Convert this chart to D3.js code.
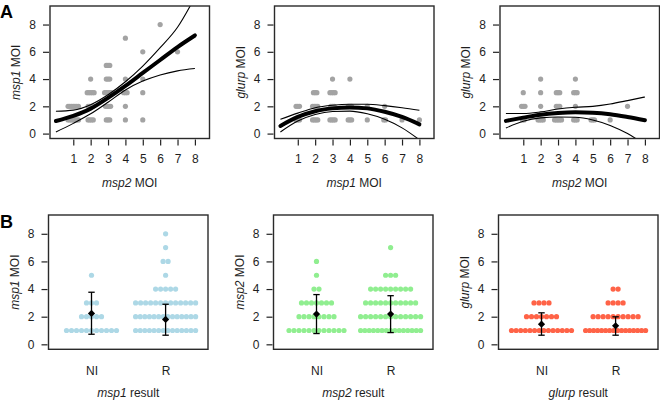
<!DOCTYPE html>
<html>
<head>
<meta charset="utf-8">
<script src="https://cdn.jsdelivr.net/npm/d3@7"></script>
<style>
body { margin: 0; background: #fff; }
svg { font-family: "Liberation Sans", Arial, sans-serif; }
</style>
</head>
<body>
<script>
'use strict';

// ---- data ----
const yTicks = [0, 2, 4, 6, 8];
const xTicksA = [1, 2, 3, 4, 5, 6, 7, 8];
const fitX = [0, 1, 2, 3, 4, 5, 6, 7, 8];

// scatter clusters [x, y, dots in the jittered cluster]
const ptsMsp2Msp1 = [
  [1,1,7],[1,2,7],[2,1,4],[2,2,4],[2,3,5],[2,4,1],
  [3,1,3],[3,2,4],[3,3,5],[3,4,3],[3,5,3],
  [4,1,1],[4,2,1],[4,3,3],[4,4,1],[4,7,1],
  [5,1,1],[5,3,1],[5,4,1],[5,6,1],[6,8,1],[7,6,1]
];
const ptsMsp1Glurp = [
  [1,1,3],[1,2,3],[2,1,4],[2,2,4],[2,3,3],
  [3,1,4],[3,2,3],[3,3,4],[3,4,1],
  [4,1,3],[4,2,3],[4,4,1],
  [5,1,1],[5,2,1],[6,1,2],[6,2,1],[7,1,1],[8,1,1]
];
const ptsMsp2Glurp = [
  [1,1,2],[1,2,3],[1,3,1],[2,1,4],[2,2,1],[2,3,1],[2,4,1],
  [3,1,5],[3,2,3],[3,3,3],[4,1,3],[4,2,1],[4,3,3],[4,4,1],
  [5,1,3],[6,1,1],[7,2,1]
];

// fitted curve and its confidence band at x = 0..8
const fitMsp2Msp1   = [0.92, 1.3, 1.83, 2.62, 3.5, 4.45, 5.4, 6.35, 7.2];
const upperMsp2Msp1 = [1.64, 1.72, 2.12, 2.85, 3.8, 4.95, 6.3, 7.8, 10.0];
const lowerMsp2Msp1 = [0.12, 0.75, 1.45, 2.3, 3.2, 3.85, 4.3, 4.6, 4.77];

const fitMsp1Glurp   = [0.56, 1.22, 1.64, 1.85, 1.92, 1.85, 1.6, 1.22, 0.68];
const upperMsp1Glurp = [1.05, 1.5, 1.9, 2.08, 2.15, 2.15, 2.05, 1.9, 1.71];
const lowerMsp1Glurp = [0.12, 0.92, 1.4, 1.62, 1.65, 1.45, 1.05, 0.42, -0.45];

const fitMsp2Glurp   = [0.93, 1.17, 1.39, 1.51, 1.56, 1.53, 1.42, 1.22, 0.98];
const upperMsp2Glurp = [1.47, 1.47, 1.59, 1.8, 1.93, 2.0, 2.17, 2.42, 2.69];
const lowerMsp2Glurp = [0.41, 0.9, 1.15, 1.22, 1.2, 1.0, 0.6, 0.0, -0.8];

// panel B: result groups, dot counts at MOI 1..8, mean and error bar
const groups = ['NI', 'R'];
const moiLevels = [1, 2, 3, 4, 5, 6, 7, 8];
const countsMsp1 = { NI: [11, 5, 3, 0, 1, 0, 0, 0], R: [14, 14, 13, 5, 1, 2, 1, 1] };
const countsMsp2 = { NI: [12, 8, 7, 2, 1, 1, 0, 0], R: [15, 13, 11, 9, 3, 0, 1, 0] };
const countsGlurp = { NI: [14, 7, 4, 0, 0, 0, 0, 0], R: [16, 10, 4, 2, 0, 0, 0, 0] };
const meanMsp1 = { NI: [2.24, 0.73, 3.77], R: [1.8, 0.66, 2.9] };
const meanMsp2 = { NI: [2.19, 0.78, 3.6], R: [2.19, 0.85, 3.52] };
const meanGlurp = { NI: [1.46, 0.66, 2.28], R: [1.34, 0.66, 1.99] };

// ---- drawing ----
const svg = d3.select('body').append('svg')
  .attr('width', 660).attr('height', 402);

const textCol = '#1e1e1e';
const boxW = 159.5, boxHA = 132.5, boxHB = 134.3;

const panelsA = [
  { left: 50, pts: ptsMsp2Msp1, fit: fitMsp2Msp1, up: upperMsp2Msp1, lo: lowerMsp2Msp1, xl: ['msp2', ' MOI'], yl: ['msp1', ' MOI'] },
  { left: 274.5, pts: ptsMsp1Glurp, fit: fitMsp1Glurp, up: upperMsp1Glurp, lo: lowerMsp1Glurp, xl: ['msp1', ' MOI'], yl: ['glurp', ' MOI'] },
  { left: 500, pts: ptsMsp2Glurp, fit: fitMsp2Glurp, up: upperMsp2Glurp, lo: lowerMsp2Glurp, xl: ['msp2', ' MOI'], yl: ['glurp', ' MOI'] }
];
const panelsB = [
  { left: 48.5, counts: countsMsp1, mean: meanMsp1, col: '#add8e6', xl: ['msp1', ' result'], yl: ['msp1', ' MOI'] },
  { left: 273.5, counts: countsMsp2, mean: meanMsp2, col: '#90ee90', xl: ['msp2', ' result'], yl: ['msp2', ' MOI'] },
  { left: 498.5, counts: countsGlurp, mean: meanGlurp, col: '#ff6347', xl: ['glurp', ' result'], yl: ['glurp', ' MOI'] }
];

function label(g, parts, attrs) {
  const t = g.append('text').attr('fill', textCol).style('font-size', '12px');
  Object.entries(attrs).forEach(([k, v]) => t.attr(k, v));
  t.append('tspan').style('font-style', 'italic').text(parts[0]);
  t.append('tspan').text(parts[1]);
  return t;
}

function frame(g, x, y, top, h, left, ylab, xlab, xAxis) {
  g.append('g')
    .attr('transform', `translate(${left - 1},0)`)
    .call(d3.axisLeft(y).tickValues(yTicks).tickSize(6).tickPadding(7))
    .call(a => a.select('.domain').remove())
    .call(a => a.selectAll('text').style('font-size', '12px').attr('fill', textCol))
    .call(a => a.selectAll('line').attr('stroke', '#222').attr('stroke-width', 1.2));
  g.append('g')
    .attr('transform', `translate(0,${top + h + 1})`)
    .call(xAxis)
    .call(a => a.select('.domain').remove())
    .call(a => a.selectAll('text').style('font-size', '12px').attr('fill', textCol))
    .call(a => a.selectAll('line').attr('stroke', '#222').attr('stroke-width', 1.2));
  g.append('rect')
    .attr('x', left).attr('y', top).attr('width', boxW).attr('height', h)
    .attr('fill', 'none').attr('stroke', '#2a2a2a').attr('stroke-width', 1.4);
  label(g, ylab, { transform: `translate(${left - 30},${top + h / 2}) rotate(-90)`, 'text-anchor': 'middle' });
  label(g, xlab, { x: left + boxW / 2, y: top + h + 48, 'text-anchor': 'middle' });
}

// panel A
panelsA.forEach((p, i) => {
  const top = 6;
  const g = svg.append('g');
  const x = d3.scaleLinear().domain([-0.34, 8.84]).range([p.left, p.left + boxW]);
  const y = d3.scaleLinear().domain([-0.36, 9.36]).range([top + boxHA, top]);

  g.append('clipPath').attr('id', 'clipA' + i)
    .append('rect').attr('x', p.left).attr('y', top).attr('width', boxW).attr('height', boxHA);

  const dots = [];
  p.pts.forEach(([px, py, n]) => {
    for (let k = 0; k < n; k++) dots.push([px + (k - (n - 1) / 2) * 0.1, py]);
  });
  g.append('g').selectAll('circle').data(dots).enter().append('circle')
    .attr('cx', d => x(d[0])).attr('cy', d => y(d[1])).attr('r', 2.6)
    .attr('fill', '#a3a3a3');

  const line = d3.line().x((d, j) => x(fitX[j])).y(d => y(d)).curve(d3.curveMonotoneX);
  const curves = g.append('g').attr('clip-path', `url(#clipA${i})`);
  [p.up, p.lo].forEach(c => curves.append('path').attr('d', line(c))
    .attr('fill', 'none').attr('stroke', '#000').attr('stroke-width', 1.1));
  curves.append('path').attr('d', line(p.fit))
    .attr('fill', 'none').attr('stroke', '#000').attr('stroke-width', 4)
    .attr('stroke-linecap', 'round');

  frame(g, x, y, top, boxHA, p.left, p.yl, p.xl,
    d3.axisBottom(x).tickValues(xTicksA).tickSize(6).tickPadding(9));
});

// panel B
panelsB.forEach(p => {
  const top = 215;
  const g = svg.append('g');
  const x = d3.scalePoint().domain(groups).range([p.left + 43, p.left + 43 + 74.1]);
  const y = d3.scaleLinear().domain([-0.36, 9.36]).range([top + boxHB, top]);

  const dots = [];
  groups.forEach(grp => {
    p.counts[grp].forEach((n, j) => {
      const sp = n > 1 ? Math.min(5, 60 / (n - 1)) : 0;
      for (let k = 0; k < n; k++) dots.push([x(grp) + (k - (n - 1) / 2) * sp, moiLevels[j]]);
    });
  });
  g.append('g').selectAll('circle').data(dots).enter().append('circle')
    .attr('cx', d => d[0]).attr('cy', d => y(d[1])).attr('r', 2.6)
    .attr('fill', p.col);

  const eb = g.append('g').attr('stroke', '#000').attr('stroke-width', 1.3);
  groups.forEach(grp => {
    const [m, lo, hi] = p.mean[grp];
    const cx = x(grp);
    eb.append('line').attr('x1', cx).attr('x2', cx).attr('y1', y(lo)).attr('y2', y(hi));
    eb.append('line').attr('x1', cx - 3.2).attr('x2', cx + 3.2).attr('y1', y(lo)).attr('y2', y(lo));
    eb.append('line').attr('x1', cx - 3.2).attr('x2', cx + 3.2).attr('y1', y(hi)).attr('y2', y(hi));
    g.append('path')
      .attr('d', d3.symbol(d3.symbolSquare, 26)())
      .attr('transform', `translate(${cx},${y(m)}) rotate(45)`)
      .attr('fill', '#000');
  });

  frame(g, x, y, top, boxHB, p.left, p.yl, p.xl,
    d3.axisBottom(x).tickSize(0).tickPadding(16));
});

svg.append('text').attr('x', 0).attr('y', 18).text('A')
  .style('font-size', '18px').style('font-weight', 'bold').attr('fill', '#000');
svg.append('text').attr('x', 0).attr('y', 228).text('B')
  .style('font-size', '18px').style('font-weight', 'bold').attr('fill', '#000');
</script>
</body>
</html>
